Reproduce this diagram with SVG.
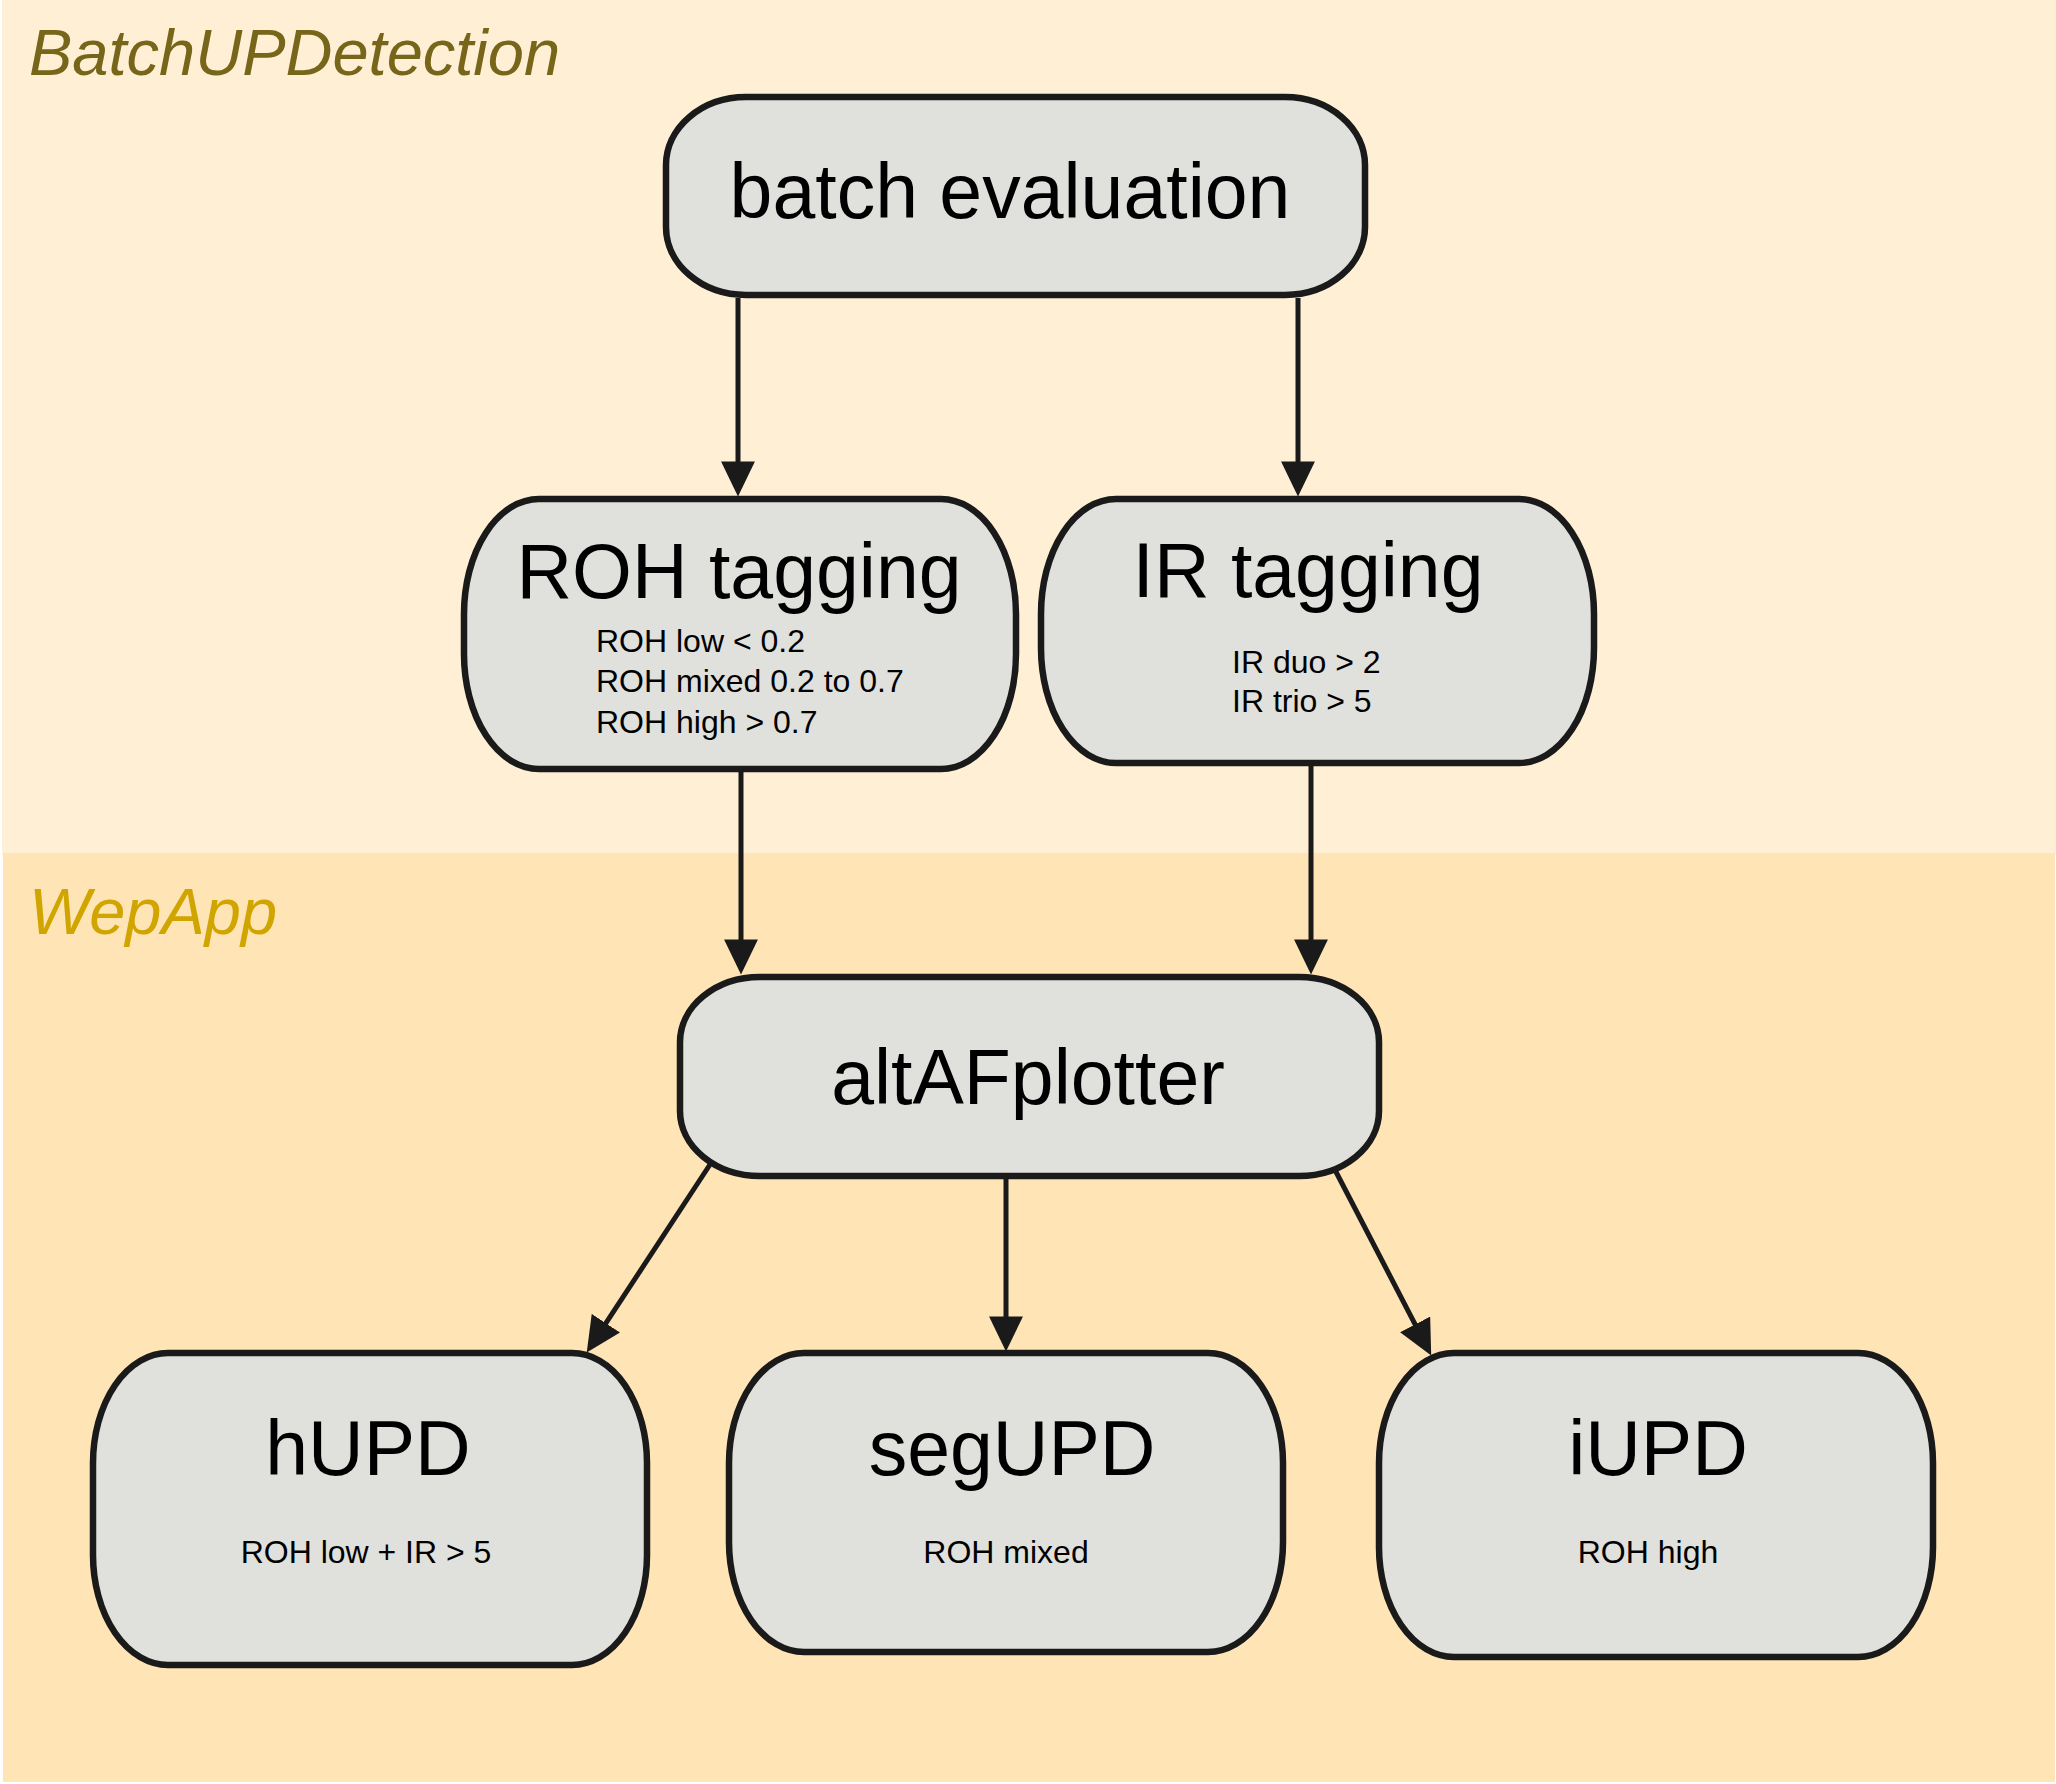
<svg xmlns="http://www.w3.org/2000/svg" width="2056" height="1784" viewBox="0 0 2056 1784">
<style>
.node rect{fill:#e0e0dc;stroke:#1a1a1a;stroke-width:6.5}
.t{font-family:"Liberation Sans",Arial,sans-serif;font-size:77px;fill:#000;text-anchor:middle}
.s{font-family:"Liberation Sans",Arial,sans-serif;font-size:32px;fill:#000}
.sc{text-anchor:middle}
.lane{font-family:"Liberation Sans",Arial,sans-serif;font-size:65px;font-style:italic}
#connectors line{stroke:#1a1a1a;stroke-width:5;fill:none;marker-end:url(#arr)}
</style>
<defs>
<marker id="arr" markerUnits="userSpaceOnUse" markerWidth="36" markerHeight="34" refX="26" refY="16" orient="auto" viewBox="0 0 34 32">
<path d="M0,0 L33,16 L0,32 z" fill="#1a1a1a"/>
</marker>
</defs>
<rect width="2056" height="1784" fill="#ffffff"/>
<g id="lane-batch">
<rect x="2" y="0" width="2054" height="855" fill="#ffefd5"/>
<text class="lane" x="29" y="75" fill="#77661a">BatchUPDetection</text>
</g>
<g id="lane-webapp">
<rect x="3" y="853" width="2052" height="929" fill="#ffe4b5"/>
<text class="lane" x="29" y="934" fill="#d1a500">WepApp</text>
</g>
<g id="connectors">
<line x1="738" y1="298" x2="738" y2="489"/>
<line x1="1298" y1="298" x2="1298" y2="489"/>
<line x1="741" y1="772" x2="741" y2="967"/>
<line x1="1311" y1="766" x2="1311" y2="967"/>
<line x1="711" y1="1163" x2="590.8" y2="1346.2"/>
<line x1="1006" y1="1179" x2="1006" y2="1344"/>
<line x1="1334" y1="1168" x2="1427.8" y2="1348.8"/>
</g>
<g id="batch-evaluation" class="node">
<rect x="666" y="97" width="699" height="198" rx="80" ry="68"/>
<text class="t" x="1010" y="218">batch evaluation</text>
</g>
<g id="roh-tagging" class="node">
<rect x="464" y="499" width="552" height="270" rx="75" ry="115"/>
<text class="t" x="739" y="598">ROH tagging</text>
<text class="s" x="596" y="652">ROH low &lt; 0.2</text>
<text class="s" x="596" y="692">ROH mixed 0.2 to 0.7</text>
<text class="s" x="596" y="733">ROH high &gt; 0.7</text>
</g>
<g id="ir-tagging" class="node">
<rect x="1041" y="499" width="553" height="264" rx="75" ry="115"/>
<text class="t" x="1308" y="597">IR tagging</text>
<text class="s" x="1232" y="673">IR duo &gt; 2</text>
<text class="s" x="1232" y="712">IR trio &gt; 5</text>
</g>
<g id="altafplotter" class="node">
<rect x="680" y="977" width="699" height="199" rx="80" ry="65"/>
<text class="t" x="1028" y="1104">altAFplotter</text>
</g>
<g id="hupd" class="node">
<rect x="93" y="1353" width="554" height="312" rx="75" ry="110"/>
<text class="t" x="368" y="1475">hUPD</text>
<text class="s sc" x="366" y="1563">ROH low + IR &gt; 5</text>
</g>
<g id="segupd" class="node">
<rect x="729" y="1353" width="554" height="299" rx="75" ry="110"/>
<text class="t" x="1012" y="1475">segUPD</text>
<text class="s sc" x="1006" y="1563">ROH mixed</text>
</g>
<g id="iupd" class="node">
<rect x="1379" y="1353" width="554" height="304" rx="75" ry="110"/>
<text class="t" x="1658" y="1475">iUPD</text>
<text class="s sc" x="1648" y="1563">ROH high</text>
</g>
</svg>
